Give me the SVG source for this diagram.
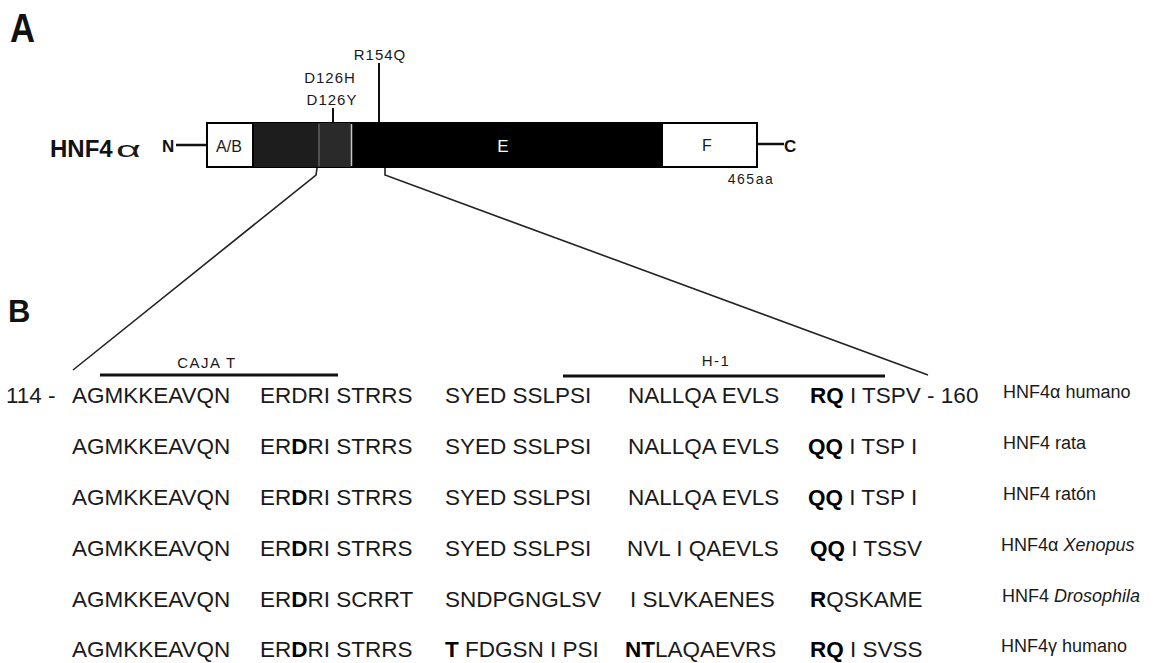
<svg xmlns="http://www.w3.org/2000/svg" width="1157" height="663" viewBox="0 0 1157 663">
<style>
text{font-family:"Liberation Sans",Arial,sans-serif;fill:#1a1a1a}
.pl{font-weight:bold;fill:#111}
.mut{font-size:15px;letter-spacing:1px;text-anchor:middle}
.seq{font-size:22.5px}
.lab{font-size:18px}
.b{font-weight:bold;fill:#000}
.i{font-style:italic}
.bar{stroke:#111;stroke-width:3}
.zoom{stroke:#222;stroke-width:1.6;fill:none}
</style>
<rect width="1157" height="663" fill="#fff"/>
<g id="panel-A">
  <text class="pl" x="10" y="42" font-size="40" textLength="25" lengthAdjust="spacingAndGlyphs">A</text>
  <text x="50" y="157" font-size="24" font-weight="bold" style="fill:#111">HNF4</text>
  <text x="116" y="157" font-size="22" textLength="25" lengthAdjust="spacingAndGlyphs">α</text>
  <text class="pl" x="162" y="152" font-size="17">N</text>
  <line x1="176" y1="145" x2="206" y2="145" stroke="#111" stroke-width="2.5"/>
  <line x1="758" y1="144" x2="784" y2="144" stroke="#111" stroke-width="2.5"/>
  <text class="pl" x="784" y="152" font-size="17">C</text>
</g>
<g id="protein">
  <rect x="206" y="122" width="552" height="46" fill="#000"/>
  <rect x="253" y="123" width="65" height="44" fill="#1d1d1d"/>
  <rect x="318" y="123" width="33" height="44" fill="#2a2a2a"/>
  <line x1="319" y1="124" x2="319" y2="166" stroke="#777" stroke-width="1"/>
  <line x1="351.5" y1="124" x2="351.5" y2="166" stroke="#c8c8c8" stroke-width="1.5"/>
  <rect x="207" y="123" width="46" height="44" fill="#fff" stroke="#000" stroke-width="2"/>
  <rect x="662" y="123" width="95" height="44" fill="#fff" stroke="#000" stroke-width="2"/>
  <text x="229" y="152" font-size="16" text-anchor="middle">A/B</text>
  <text x="503" y="152" font-size="17" text-anchor="middle" style="fill:#fff">E</text>
  <text x="707" y="151" font-size="16" text-anchor="middle">F</text>
  <text x="751" y="184" font-size="14" letter-spacing="1.5" text-anchor="middle">465aa</text>
</g>
<g id="mutations">
  <text class="mut" x="380" y="60">R154Q</text>
  <text class="mut" x="330" y="83">D126H</text>
  <text class="mut" x="332" y="105">D126Y</text>
  <line x1="379" y1="63" x2="379" y2="122" stroke="#111" stroke-width="2"/>
  <line x1="333" y1="108" x2="333" y2="122" stroke="#111" stroke-width="2"/>
</g>
<g id="connectors">
  <polyline class="zoom" points="317,168 316,175 73,370"/>
  <polyline class="zoom" points="385,168 385,175 928,375"/>
</g>
<g id="panel-B">
  <text class="pl" x="8" y="322" font-size="31">B</text>
  <text x="207" y="368" font-size="15" letter-spacing="1.5" text-anchor="middle">CAJA T</text>
  <line class="bar" x1="100" y1="375" x2="338" y2="375"/>
  <text x="716" y="366" font-size="15" letter-spacing="1.5" text-anchor="middle">H-1</text>
  <line class="bar" x1="563" y1="376" x2="885" y2="376"/>
</g>
<g id="row1">
  <text class="seq" x="6" y="403">114 -</text>
  <text class="seq" x="72" y="403">AGMKKEAVQN</text>
  <text class="seq" x="260" y="403">ERDRI STRRS</text>
  <text class="seq" x="445" y="403">SYED SSLPSI</text>
  <text class="seq" x="628" y="403">NALLQA EVLS</text>
  <text class="seq" x="810" y="403"><tspan class="b">RQ</tspan> I TSPV - 160</text>
  <text class="lab" x="1003" y="398">HNF4α humano</text>
</g>
<g id="row2">
  <text class="seq" x="72" y="454">AGMKKEAVQN</text>
  <text class="seq" x="260" y="454">ER<tspan class="b">D</tspan>RI STRRS</text>
  <text class="seq" x="445" y="454">SYED SSLPSI</text>
  <text class="seq" x="628" y="454">NALLQA EVLS</text>
  <text class="seq" x="808" y="454"><tspan class="b">QQ</tspan> I TSP I</text>
  <text class="lab" x="1003" y="449">HNF4 rata</text>
</g>
<g id="row3">
  <text class="seq" x="72" y="505">AGMKKEAVQN</text>
  <text class="seq" x="260" y="505">ER<tspan class="b">D</tspan>RI STRRS</text>
  <text class="seq" x="445" y="505">SYED SSLPSI</text>
  <text class="seq" x="628" y="505">NALLQA EVLS</text>
  <text class="seq" x="808" y="505"><tspan class="b">QQ</tspan> I TSP I</text>
  <text class="lab" x="1003" y="500">HNF4 ratón</text>
</g>
<g id="row4">
  <text class="seq" x="72" y="556">AGMKKEAVQN</text>
  <text class="seq" x="260" y="556">ER<tspan class="b">D</tspan>RI STRRS</text>
  <text class="seq" x="445" y="556">SYED SSLPSI</text>
  <text class="seq" x="627" y="556">NVL I QAEVLS</text>
  <text class="seq" x="810" y="556"><tspan class="b">QQ</tspan> I TSSV</text>
  <text class="lab" x="1001" y="551">HNF4α <tspan class="i">Xenopus</tspan></text>
</g>
<g id="row5">
  <text class="seq" x="72" y="607">AGMKKEAVQN</text>
  <text class="seq" x="260" y="607">ER<tspan class="b">D</tspan>RI SCRRT</text>
  <text class="seq" x="445" y="607">SNDPGNGLSV</text>
  <text class="seq" x="630" y="607">I SLVKAENES</text>
  <text class="seq" x="810" y="607"><tspan class="b">R</tspan>QSKAME</text>
  <text class="lab" x="1002" y="602">HNF4 <tspan class="i">Drosophila</tspan></text>
</g>
<g id="row6">
  <text class="seq" x="72" y="657">AGMKKEAVQN</text>
  <text class="seq" x="260" y="657">ER<tspan class="b">D</tspan>RI STRRS</text>
  <text class="seq" x="445" y="657"><tspan class="b">T</tspan> FDGSN I PSI</text>
  <text class="seq" x="625" y="657"><tspan class="b">NT</tspan>LAQAEVRS</text>
  <text class="seq" x="810" y="657"><tspan class="b">RQ</tspan> I SVSS</text>
  <text class="lab" x="1001" y="652">HNF4γ humano</text>
</g>
</svg>
